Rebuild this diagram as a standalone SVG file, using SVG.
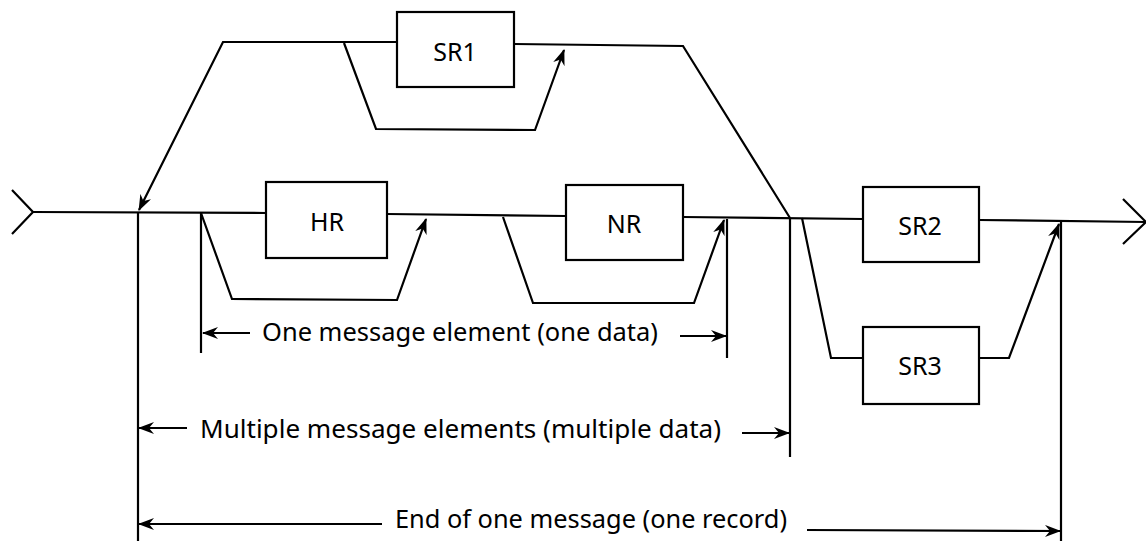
<svg xmlns="http://www.w3.org/2000/svg" width="1146" height="544" viewBox="0 0 1146 544">
<style>
.ln{fill:none;stroke:#000;stroke-width:2.2;stroke-linejoin:miter}
.bx{fill:#fff;stroke:#000;stroke-width:2.2}
.lb{font-family:"Noto Sans","Open Sans","DejaVu Sans",sans-serif;font-size:25px;fill:#000}
.c{text-anchor:middle}
.ar{marker-end:url(#ah)}
</style>
<defs>
<marker id="ah" viewBox="0 0 16 12" refX="15" refY="6" markerWidth="16" markerHeight="12" markerUnits="userSpaceOnUse" orient="auto">
<path d="M0,0 L16,6 L0,12 L5,6 z" fill="#000"/>
</marker>
</defs>
<rect width="1146" height="544" fill="#fff"/>
<g id="connectors">
<polyline class="ln" points="12,190 33,212 12,234"/>
<path class="ln" d="M33,212 L266,213"/>
<path class="ln" d="M387,214 L566,216"/>
<path class="ln" d="M683,217 L863,219"/>
<path class="ln" d="M979,220 L1146,222"/>
<polyline class="ln" points="1123,199 1146,222 1123,244"/>
<path class="ln" d="M790,218 L683,46 L514,44"/>
<path class="ln ar" d="M397,42 L223,42 L139,210"/>
<path class="ln ar" d="M344,43 L376,129 L535,130 L564,50"/>
<path class="ln ar" d="M201,213 L232,299 L397,300 L426,219"/>
<path class="ln ar" d="M503,217 L533,303 L694,303 L724,220"/>
<path class="ln" d="M802,218 L831,358 L863,358"/>
<path class="ln ar" d="M979,358 L1009,358 L1059,224"/>
<path class="ln" d="M138,212 L138,541"/>
<path class="ln" d="M201,213 L201,353"/>
<path class="ln" d="M727,219 L727,358"/>
<path class="ln" d="M790,218 L790,457"/>
<path class="ln" d="M1061,222 L1061,541"/>
<path class="ln ar" d="M250,333 L203,333"/>
<path class="ln ar" d="M680,336 L726,336"/>
<path class="ln ar" d="M187,428 L139,428"/>
<path class="ln ar" d="M742,433 L789,433"/>
<path class="ln ar" d="M382,524 L139,524"/>
<path class="ln ar" d="M807,530 L1060,531"/>
</g>
<g id="SR1"><rect class="bx" x="397" y="12" width="117" height="75"/><text class="lb c" x="455" y="61">SR1</text></g>
<g id="HR"><rect class="bx" x="266" y="182" width="121" height="76"/><text class="lb c" x="327" y="231">HR</text></g>
<g id="NR"><rect class="bx" x="566" y="185" width="117" height="75"/><text class="lb c" x="624" y="233">NR</text></g>
<g id="SR2"><rect class="bx" x="863" y="187" width="116" height="75"/><text class="lb c" x="920" y="235">SR2</text></g>
<g id="SR3"><rect class="bx" x="863" y="327" width="116" height="77"/><text class="lb c" x="920" y="375">SR3</text></g>
<g id="labels">
<text class="lb" x="262" y="341" textLength="396" lengthAdjust="spacingAndGlyphs">One message element (one data)</text>
<text class="lb" x="200" y="438" textLength="521" lengthAdjust="spacingAndGlyphs">Multiple message elements (multiple data)</text>
<text class="lb" x="395" y="528" textLength="392" lengthAdjust="spacingAndGlyphs">End of one message (one record)</text>
</g>
</svg>
